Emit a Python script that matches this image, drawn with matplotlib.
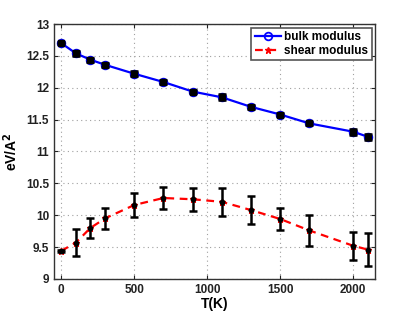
import matplotlib
matplotlib.use("Agg")
import matplotlib.pyplot as plt
import numpy as np

plt.rcParams['font.family'] = ['Liberation Sans', 'DejaVu Sans']
plt.rcParams['font.weight'] = 'bold'

# temperatures (K)
T = [0, 100, 200, 300, 500, 700, 900, 1100, 1300, 1500, 1700, 2000, 2100]

# bulk modulus and its error
bulk = [12.70, 12.54, 12.44, 12.36, 12.22, 12.09, 11.94, 11.85, 11.70, 11.58, 11.44, 11.31, 11.23]
bulk_err = [0.02, 0.04, 0.03, 0.03, 0.04, 0.03, 0.03, 0.05, 0.03, 0.03, 0.03, 0.05, 0.05]

# shear modulus and its error
shear = [9.44, 9.57, 9.80, 9.95, 10.16, 10.27, 10.25, 10.21, 10.08, 9.94, 9.76, 9.52, 9.46]
shear_err = [0.01, 0.21, 0.15, 0.17, 0.19, 0.17, 0.18, 0.22, 0.22, 0.18, 0.24, 0.22, 0.26]

fig = plt.figure(figsize=(4.15, 3.12), dpi=100)
ax = fig.add_axes([0.130, 0.106, 0.774, 0.817])

ax.plot(T, bulk, '-o', color='blue', lw=1.6, ms=5.5, mfc='none', mec='blue', mew=1.3,
        label='bulk modulus')
ax.plot(T, shear, '--*', color='red', lw=1.6, ms=5, dashes=(3.5, 2.5), label='shear modulus')
ax.errorbar(T, bulk, yerr=bulk_err, fmt='s', color='black', ecolor='black', ms=4,
            elinewidth=1.8, capsize=3, capthick=1.8)
ax.errorbar(T, shear, yerr=shear_err, fmt='o', color='black', ecolor='black', ms=3.2,
            elinewidth=1.8, capsize=3, capthick=1.8)

ax.set_xlim(-50, 2150)
ax.set_ylim(9, 13)
ax.set_xticks([0, 500, 1000, 1500, 2000])
ax.set_yticks(np.arange(9, 13.01, 0.5))
ax.set_yticklabels(['9', '9.5', '10', '10.5', '11', '11.5', '12', '12.5', '13'])
ax.tick_params(direction='in', top=True, right=True, labelsize=8.5, length=3,
               colors='#222222')
ax.grid(True, ls=(0, (1, 3)), color='#a0a0a0', lw=0.8)
for s in ax.spines.values():
    s.set_linewidth(1.0)
    s.set_color('#333333')

ax.set_xlabel('T(K)', fontsize=10, fontweight='bold', labelpad=1)
ax.set_ylabel('eV/A$^{\\mathbf{2}}$', fontsize=10, fontweight='bold', labelpad=4)

leg = ax.legend(loc='upper right', fontsize=8.5, fancybox=False, framealpha=1,
                edgecolor='#555555', borderaxespad=0.3, handlelength=2.2,
                borderpad=0.3, labelspacing=0.15, handletextpad=0.3)
leg.get_frame().set_linewidth(1.2)

fig.savefig('out.png', dpi=100)
